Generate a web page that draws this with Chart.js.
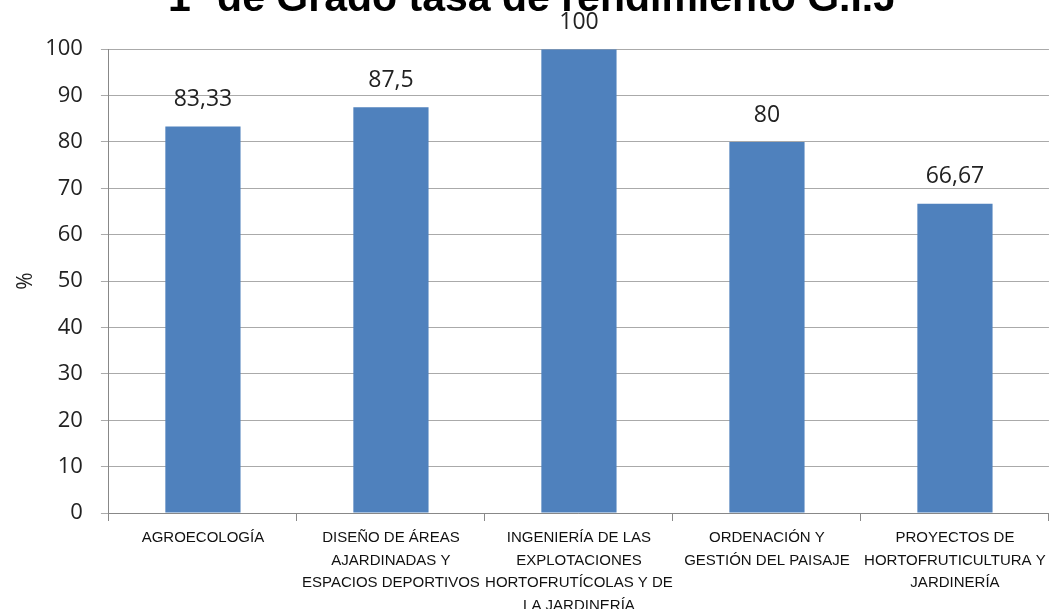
<!DOCTYPE html>
<html>
<head>
<meta charset="utf-8">
<script src="https://cdn.jsdelivr.net/npm/chart.js@4.4.1/dist/chart.umd.min.js"></script>
<style>
html,body{margin:0;padding:0;background:#fff;}
#wrap{width:1052px;height:609px;position:relative;overflow:hidden;}
#c{position:absolute;left:0;top:0;}
</style>
</head>
<body>
<div id="wrap"><canvas id="c" width="1052" height="623"></canvas></div>
<script>
const titleText = "1º de Grado tasa de rendimiento G.I.J";
const categories = [
  ["AGROECOLOGÍA"],
  ["DISEÑO DE ÁREAS","AJARDINADAS Y","ESPACIOS DEPORTIVOS"],
  ["INGENIERÍA DE LAS","EXPLOTACIONES","HORTOFRUTÍCOLAS Y DE","LA JARDINERÍA"],
  ["ORDENACIÓN Y","GESTIÓN DEL PAISAJE"],
  ["PROYECTOS DE","HORTOFRUTICULTURA Y","JARDINERÍA"]
];
const values = [83.33, 87.5, 100, 80, 66.67];
const valueLabels = ["83,33", "87,5", "100", "80", "66,67"];
const yTicks = [0,10,20,30,40,50,60,70,80,90,100];

const dataLabelPlugin = {
  id: 'dataLabels',
  afterDatasetsDraw(chart) {
    const ctx = chart.ctx;
    const meta = chart.getDatasetMeta(0);
    ctx.save();
    ctx.font = '23px "Open Sans"';
    ctx.fillStyle = '#222';
    ctx.textAlign = 'center';
    ctx.textBaseline = 'middle';
    meta.data.forEach((bar, i) => {
      ctx.fillText(valueLabels[i], bar.x, bar.y - 27);
    });
    ctx.restore();
  }
};

new Chart(document.getElementById('c'), {
  type: 'bar',
  data: {
    labels: categories,
    datasets: [{
      data: values,
      backgroundColor: '#4F81BD',
      borderWidth: 0,
      barPercentage: 0.4,
      categoryPercentage: 1.0
    }]
  },
  options: {
    responsive: false,
    animation: false,
    layout: { padding: { left: 14, right: 2, top: 0, bottom: 0 } },
    plugins: {
      legend: { display: false },
      tooltip: { enabled: false },
      title: {
        display: true,
        text: titleText,
        color: '#000',
        font: { family: '"Liberation Sans", Arial', size: 41, weight: 'bold', lineHeight: 1.2 },
        padding: { top: -25, bottom: 25 }
      }
    },
    scales: {
      x: {
        offset: true,
        grid: { offset: true, drawOnChartArea: false, drawTicks: true, tickLength: 8, color: '#888' },
        border: { color: '#888' },
        ticks: {
          autoSkip: false, maxRotation: 0, minRotation: 0,
          color: '#111',
          font: { family: '"Liberation Sans", Arial, sans-serif', size: 15, lineHeight: 1.5 },
          padding: 6
        }
      },
      y: {
        min: 0, max: 100,
        afterBuildTicks(scale) { scale.ticks = yTicks.map(v => ({ value: v })); },
        grid: { color: '#aaa', tickLength: 8, drawTicks: true },
        border: { color: '#888' },
        ticks: {
          color: '#222',
          font: { family: '"Open Sans"', size: 22 },
          padding: 18
        },
        title: {
          display: true, text: '%', color: '#222',
          font: { family: '"Open Sans"', size: 21 },
          padding: { top: -1, bottom: -11 }
        }
      }
    }
  },
  plugins: [dataLabelPlugin]
});
</script>
</body>
</html>
